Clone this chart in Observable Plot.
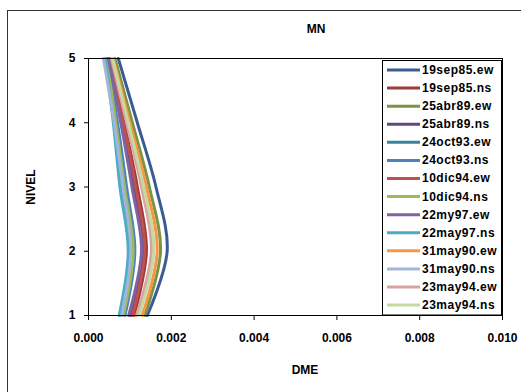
<!DOCTYPE html>
<html><head><meta charset="utf-8">
<script src="https://cdn.jsdelivr.net/npm/d3@7"></script>
<script src="https://cdn.jsdelivr.net/npm/@observablehq/plot@0.6"></script>
<style>body{margin:0;background:#fff;} #chart svg{display:block;}</style>
</head><body><div id="chart"></div>
<script>
const levels = [1, 2, 3, 4, 5];
const seriesNames = ["19sep85.ew","19sep85.ns","25abr89.ew","25abr89.ns","24oct93.ew","24oct93.ns","10dic94.ew","10dic94.ns","22my97.ew","22may97.ns","31may90.ew","31may90.ns","23may94.ew","23may94.ns"];
const seriesColors = ["#3A5C93","#9A3D3A","#7A9445","#5E4A80","#35869B","#4F81BD","#C0504D","#9BBB59","#8064A2","#4BACC6","#F79646","#A3B6D8","#D9A3A2","#C6D9A0"];
// DME values at levels 1..5
const v19sep85ew = [0.00142, 0.00190, 0.00163, 0.00118, 0.00072];
const v19sep85ns = [0.00110, 0.00140, 0.00118, 0.00086, 0.00050];
const v25abr89ew = [0.00136, 0.00174, 0.00147, 0.00106, 0.00064];
const v25abr89ns = [0.00102, 0.00132, 0.00110, 0.00082, 0.00050];
const v24oct93ew = [0.00077, 0.00099, 0.00080, 0.00062, 0.00042];
const v24oct93ns = [0.00088, 0.00112, 0.00092, 0.00070, 0.00045];
const v10dic94ew = [0.00106, 0.00136, 0.00114, 0.00084, 0.00047];
const v10dic94ns = [0.00084, 0.00108, 0.00087, 0.00066, 0.00044];
const v22my97ew  = [0.00097, 0.00128, 0.00105, 0.00078, 0.00048];
const v22may97ns = [0.00074, 0.00096, 0.00076, 0.00060, 0.00040];
const v31may90ew = [0.00130, 0.00166, 0.00140, 0.00100, 0.00060];
const v31may90ns = [0.00080, 0.00102, 0.00083, 0.00062, 0.00036];
const v23may94ew = [0.00116, 0.00152, 0.00128, 0.00092, 0.00055];
const v23may94ns = [0.00122, 0.00158, 0.00133, 0.00096, 0.00058];
const seriesValues = [v19sep85ew, v19sep85ns, v25abr89ew, v25abr89ns, v24oct93ew, v24oct93ns, v10dic94ew, v10dic94ns, v22my97ew, v22may97ns, v31may90ew, v31may90ns, v23may94ew, v23may94ns];
const xTicks = [0, 0.002, 0.004, 0.006, 0.008, 0.010];
const yTicks = [1, 2, 3, 4, 5];
const titleText = "MN";
const xLabel = "DME";
const yLabel = "NIVEL";

const rows = seriesNames.flatMap((name, i) => levels.map((lv, j) => ({series: name, level: lv, dme: seriesValues[i][j]})));

const font = "'Liberation Sans', Arial, sans-serif";
const chart = Plot.plot({
  width: 521, height: 392,
  marginLeft: 88, marginRight: 19, marginTop: 58, marginBottom: 77,
  style: {fontFamily: font, fontSize: "12px", fontWeight: "bold", background: "#fff", color: "#000"},
  x: {domain: [0, 0.010]},
  y: {domain: [1, 5]},
  color: {domain: seriesNames, range: seriesColors},
  marks: [
    Plot.line(rows, {x: "dme", y: "level", z: "series", stroke: "series", strokeWidth: 3, curve: "catmull-rom"}),
    Plot.frame({stroke: "#000"}),
    Plot.axisX({ticks: xTicks, tickFormat: d3.format(".3f"), tickSize: 5, tickPadding: 13, label: null}),
    Plot.axisY({ticks: yTicks, tickFormat: d3.format("d"), tickSize: 4, tickPadding: 9, label: null})
  ]
});
document.getElementById("chart").appendChild(chart);

const svg = d3.select(chart);
svg.insert("rect", ":first-child")
  .attr("x", 7.5).attr("y", 10.5).attr("width", 700).attr("height", 600)
  .attr("fill", "#fff").attr("stroke", "#333");

const txt = (x, y, s, rot) => {
  const t = svg.append("text").attr("x", x).attr("y", y).attr("text-anchor", "middle")
    .attr("dominant-baseline", "central").attr("font-family", font).attr("font-size", 12)
    .attr("font-weight", "bold").attr("fill", "#000").text(s);
  if (rot) t.attr("transform", `rotate(-90 ${x} ${y})`);
  return t;
};
txt(316, 29, titleText);
txt(305, 370, xLabel);
txt(31, 187, yLabel, true);

const lg = svg.append("g");
lg.append("rect").attr("x", 382.5).attr("y", 60.5).attr("width", 119).attr("height", 254.5)
  .attr("fill", "#fff").attr("stroke", "#000");
seriesNames.forEach((name, i) => {
  const y = 70 + i * 18.08;
  lg.append("line").attr("x1", 387).attr("x2", 420).attr("y1", y).attr("y2", y)
    .attr("stroke", seriesColors[i]).attr("stroke-width", 3);
  lg.append("text").attr("x", 422).attr("y", y).attr("dominant-baseline", "central")
    .attr("text-anchor", "start")
    .attr("font-family", font).attr("font-size", 12).attr("font-weight", "bold")
    .attr("letter-spacing", "0.5px").attr("fill", "#000").text(name);
});
</script>
</body></html>
